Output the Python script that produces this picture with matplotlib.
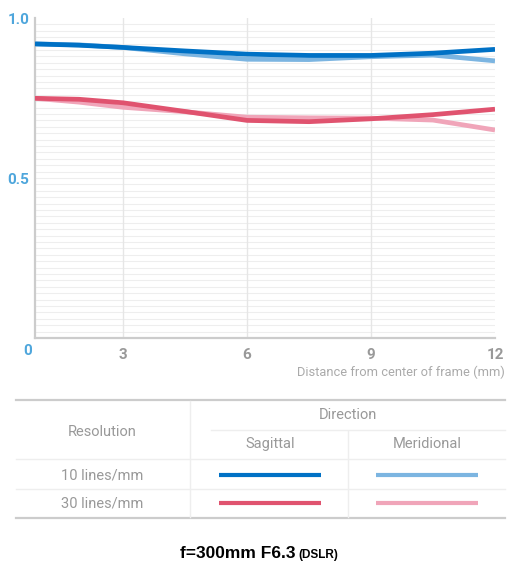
import numpy as np
import matplotlib
matplotlib.use('Agg')
import matplotlib.pyplot as plt

# MTF data
dist = [0, 1.5, 3, 4.5, 6, 7.5, 9, 10.5, 12]
sag10 = [0.919, 0.915, 0.908, 0.897, 0.887, 0.883, 0.883, 0.890, 0.902]
mer10 = [0.919, 0.916, 0.908, 0.888, 0.871, 0.870, 0.879, 0.884, 0.866]
sag30 = [0.749, 0.746, 0.735, 0.708, 0.680, 0.676, 0.685, 0.698, 0.715]
mer30 = [0.749, 0.737, 0.721, 0.707, 0.690, 0.688, 0.687, 0.681, 0.650]

x_ticks = [3, 6, 9, 12]
y_ticks = [0, 0.5, 1.0]
y_labels = ['0', '0.5', '1.0']
rows = ['10 lines/mm', '30 lines/mm']
cols = ['Sagittal', 'Meridional']

c_sag10 = '#0071c5'
c_mer10 = '#7cb5e1'
c_sag30 = '#e0536f'
c_mer30 = '#f0a5b9'

narrow = ['Roboto', 'DejaVu Sans']
W, H = 514, 572

fig = plt.figure(figsize=(W / 100, H / 100), dpi=100)

def fx(px):
    return px / W

def fy(py):
    return 1 - py / H

ax = fig.add_axes([fx(35), fy(338), fx(495) - fx(35), fy(18) - fy(338)])

# the first interval of the axis is drawn narrower than the rest
def fwd(x):
    return np.interp(x, [0, 3, 12], [0, 2.13, 11.13], left=-1e9, right=1e9)

def inv(x):
    return np.interp(x, [0, 2.13, 11.13], [0, 3, 12], left=-1e9, right=1e9)

ax.set_xscale('function', functions=(fwd, inv))
ax.set_xlim(0, 12)
ax.set_ylim(0, 1.0)

for yy in np.arange(0.02, 0.995, 0.02):
    ax.axhline(yy, color='#eeeeee', lw=0.8, zorder=0)
for xx in x_ticks[:-1]:
    ax.axvline(xx, color='#e6e6e6', lw=1.0, zorder=0)

ax.plot(dist, mer10, color=c_mer10, lw=3.4, solid_capstyle='butt', solid_joinstyle='round', zorder=2)
ax.plot(dist, sag10, color=c_sag10, lw=3.4, solid_capstyle='butt', solid_joinstyle='round', zorder=3)
ax.plot(dist, mer30, color=c_mer30, lw=3.4, solid_capstyle='butt', solid_joinstyle='round', zorder=2)
ax.plot(dist, sag30, color=c_sag30, lw=3.4, solid_capstyle='butt', solid_joinstyle='round', zorder=3)

for s in ['top', 'right']:
    ax.spines[s].set_visible(False)
for s in ['left', 'bottom']:
    ax.spines[s].set_color('#cccccc')
    ax.spines[s].set_linewidth(1.6)
ax.tick_params(length=0)

ax.set_xticks(x_ticks)
ax.set_xticklabels([str(t) for t in x_ticks], color='#999999', fontsize=11,
                   fontweight='bold', family=narrow)
ax.tick_params(axis='x', pad=7)
ax.set_yticks(y_ticks[1:])
ax.set_yticklabels(y_labels[1:], color='#4ea6dc', fontsize=11,
                   fontweight='bold', family=narrow)
ax.tick_params(axis='y', pad=4)
fig.text(fx(28), fy(351), y_labels[0], color='#4ea6dc', fontsize=11,
         fontweight='bold', family=narrow, ha='center', va='center')
fig.text(fx(505), fy(372), 'Distance from center of frame (mm)', color='#aaaaaa',
         fontsize=9.3, family=narrow, ha='right', va='center')

# legend table
tl = dict(transform=fig.transFigure, clip_on=False)
fig.add_artist(plt.Line2D([fx(16), fx(505)], [fy(400), fy(400)], color='#cccccc', lw=1.6, **tl))
fig.add_artist(plt.Line2D([fx(16), fx(505)], [fy(518), fy(518)], color='#cccccc', lw=1.6, **tl))
fig.add_artist(plt.Line2D([fx(16), fx(505)], [fy(459), fy(459)], color='#eeeeee', lw=1.0, **tl))
fig.add_artist(plt.Line2D([fx(16), fx(505)], [fy(489), fy(489)], color='#eeeeee', lw=1.0, **tl))
fig.add_artist(plt.Line2D([fx(211), fx(505)], [fy(430), fy(430)], color='#eeeeee', lw=1.0, **tl))
fig.add_artist(plt.Line2D([fx(190), fx(190)], [fy(401), fy(517)], color='#eeeeee', lw=1.0, **tl))
fig.add_artist(plt.Line2D([fx(348), fx(348)], [fy(431), fy(517)], color='#eeeeee', lw=1.0, **tl))

txt = dict(color='#999999', fontsize=10.5, family=narrow, ha='center', va='center')
fig.text(fx(102), fy(432), 'Resolution', **txt)
fig.text(fx(348), fy(415), 'Direction', **txt)
fig.text(fx(270), fy(444), cols[0], **txt)
fig.text(fx(427), fy(444), cols[1], **txt)

row_y = [475, 503]
row_colors = [(c_sag10, c_mer10), (c_sag30, c_mer30)]
for label, ry, (cs, cm) in zip(rows, row_y, row_colors):
    fig.text(fx(102), fy(ry), label, **txt)
    fig.add_artist(plt.Line2D([fx(219), fx(321)], [fy(ry), fy(ry)], color=cs, lw=3.0,
                              solid_capstyle='butt', **tl))
    fig.add_artist(plt.Line2D([fx(376), fx(478)], [fy(ry), fy(ry)], color=cm, lw=3.0,
                              solid_capstyle='butt', **tl))

fig.text(fx(296), fy(558), 'f=300mm F6.3', color='black', fontsize=12.5,
         fontweight='bold', family=['Liberation Sans', 'DejaVu Sans'], ha='right', va='baseline')
fig.text(fx(298), fy(558), '(DSLR)', color='black', fontsize=8.5,
         fontweight='bold', family=['Liberation Sans', 'DejaVu Sans'], ha='left', va='baseline')

fig.savefig('out.png', dpi=100, facecolor='white')
